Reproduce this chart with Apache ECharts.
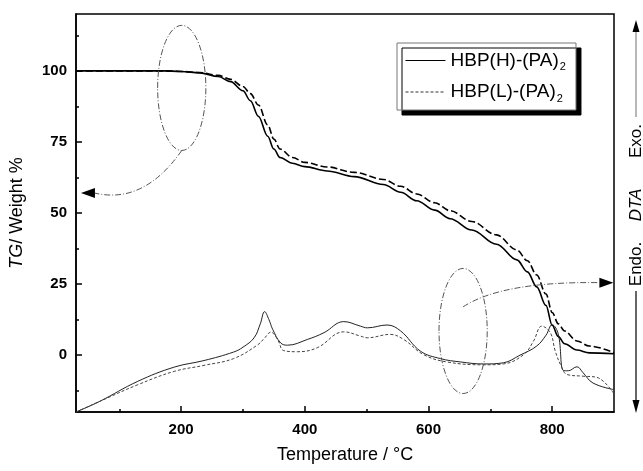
<!DOCTYPE html>
<html>
<head>
<meta charset="utf-8">
<script src="https://cdn.jsdelivr.net/npm/echarts@6/dist/echarts.min.js"></script>
<style>
  html, body { margin: 0; padding: 0; background: #fff; }
  #chart { width: 643px; height: 471px; }
</style>
</head>
<body>
<div id="chart"></div>
<script>
  // TG curves (weight %)
  const tgTemps = [30, 100, 170, 200, 230, 260, 280, 300, 312, 325, 340, 350, 360, 380, 400, 436, 480, 527, 555, 581, 610, 635, 670, 710, 743, 760, 775, 790, 800, 810, 820, 840, 860, 900];
  const tgH = [100, 100, 100, 99.8, 99.3, 98, 96.2, 93, 89.5, 84, 77, 72.5, 69.5, 67.5, 66.3, 64.8, 62.8, 60, 57.3, 54.3, 51, 48, 44, 39, 33.5, 29.3, 24, 17.5, 10.5, 6.5, 4, 1.8, 0.8, 0.5];
  const tgL = [100, 100, 100, 99.8, 99.4, 98.4, 97, 94.5, 92, 88, 81, 76, 72.5, 69.5, 67.8, 66.2, 64.3, 61.8, 59.4, 56.7, 53.6, 50.8, 47, 42.3, 37, 33.2, 28.2, 21.5, 15, 11, 8.5, 5, 3.2, 0.9];

  // DTA curves (arbitrary units, drawn on the same scale)
  const dtaTempsH = [30, 68, 130, 189, 237, 285, 300, 318, 328, 335, 342, 348, 361, 372, 404, 431, 463, 490, 501, 533, 555, 587, 619, 652, 689, 721, 748, 775, 790, 800, 810, 818, 826, 840, 850, 866, 899];
  const dtaH = [-20, -16.3, -9.2, -4.2, -1.9, 1.1, 2.8, 6.1, 11, 15.3, 12.5, 9.1, 4.3, 3.5, 5.5, 7.9, 11.8, 10.2, 9.6, 10.6, 8.5, 1.4, -1.2, -2.4, -3.1, -2.7, 0, 3.2, 7, 10.7, 7.3, -5.4, -5.5, -4.1, -6.2, -9.8, -12.1];
  const dtaTempsL = [30, 68, 130, 189, 237, 285, 323, 335, 345, 356, 366, 388, 420, 463, 490, 501, 538, 560, 592, 630, 689, 721, 754, 770, 783, 797, 805, 815, 824, 850, 872, 899];
  const dtaL = [-20, -16.3, -10.4, -5.7, -3.6, -1.2, 3.5, 6, 8.1, 5.5, 1.6, 1.2, 2.6, 8.2, 6.7, 6.1, 7.3, 5.5, 0.2, -2.4, -3.4, -3.1, 0.2, 5, 10.2, 7.9, 1.4, -4, -6.8, -7.4, -7.8, -13.3];

  // axis ticks
  const xLabels = [200, 400, 600, 800];
  const xMinor = [100, 300, 500, 700];
  const yLabels = [0, 25, 50, 75, 100];
  const yMinor = [-12.5, 12.5, 37.5, 62.5, 87.5, 112.5];

  const nameH = "HBP(H)-(PA)2";
  const nameL = "HBP(L)-(PA)2";

  const FONT = '"Liberation Sans", Arial, sans-serif';

  const zip = (xs, ys) => xs.map((x, i) => [x, ys[i]]);

  const chart = echarts.init(document.getElementById("chart"), null, { renderer: "canvas" });

  const tickAxis = (values, len, extra) => Object.assign({
    type: "value",
    axisTick: { show: true, inside: true, length: len, customValues: values, lineStyle: { color: "#000", width: 1.5 } },
    axisLine: { show: true, onZero: false, lineStyle: { color: "#000", width: 1.5 } },
    splitLine: { show: false }
  }, extra);

  chart.setOption({
    animation: false,
    backgroundColor: "#fff",
    grid: { left: 75, right: 29, top: 14, bottom: 59, show: true, borderColor: "#000", borderWidth: 1.5, backgroundColor: "transparent" },
    legend: {
      left: 397, top: 43,
      orient: "vertical",
      itemWidth: 40, itemHeight: 14, itemGap: 10,
      padding: [8, 10, 6, 8],
      backgroundColor: "#fff",
      borderColor: "#777", borderWidth: 1,
      shadowColor: "#000", shadowBlur: 0, shadowOffsetX: 5, shadowOffsetY: 5,
      data: [
        { name: nameH, itemStyle: { opacity: 0 }, lineStyle: { color: "#000", width: 1, type: "solid" } },
        { name: nameL, itemStyle: { opacity: 0 }, lineStyle: { color: "#333", width: 1, type: [3, 2] } }
      ],
      formatter: (n) => "{m|" + n.slice(0, -1) + "}{s|2}",
      textStyle: {
        rich: {
          m: { fontFamily: FONT, fontSize: 19, color: "#000", lineHeight: 24 },
          s: { fontFamily: FONT, fontSize: 11, color: "#000", verticalAlign: "bottom", lineHeight: 12, padding: [10, 0, 0, 1] }
        }
      }
    },
    xAxis: [
      tickAxis(xLabels, 6, {
        min: 30, max: 900,
        name: "Temperature / °C",
        nameLocation: "middle", nameGap: 34,
        nameTextStyle: { fontFamily: FONT, fontSize: 18, color: "#000" },
        axisLabel: { customValues: xLabels, fontFamily: FONT, fontSize: 15, fontWeight: "bold", color: "#000", margin: 10 }
      }),
      tickAxis(xMinor, 3, { min: 30, max: 900, position: "bottom", axisLabel: { show: false }, axisLine: { show: false, onZero: false } })
    ],
    yAxis: [
      tickAxis(yLabels, 6, {
        min: -20, max: 120,
        name: "{i|TG}/ Weight %",
        nameLocation: "middle", nameGap: 50, nameRotate: 90,
        nameTextStyle: {
          fontFamily: FONT, fontSize: 18, color: "#000",
          rich: { i: { fontFamily: FONT, fontSize: 18, fontStyle: "italic", color: "#000" } }
        },
        axisLabel: { customValues: yLabels, fontFamily: FONT, fontSize: 15, fontWeight: "bold", color: "#000", margin: 9 }
      }),
      tickAxis(yMinor, 3, { min: -20, max: 120, position: "left", axisLabel: { show: false }, axisLine: { show: false, onZero: false } })
    ],
    series: [
      { name: nameH, type: "line", data: zip(tgTemps, tgH), symbol: "none", smooth: 0.35, smoothMonotone: "x", itemStyle: { color: "#000" }, lineStyle: { color: "#000", width: 1.6 } },
      { name: nameL, type: "line", data: zip(tgTemps, tgL), symbol: "none", smooth: 0.35, smoothMonotone: "x", itemStyle: { color: "#000" }, lineStyle: { color: "#000", width: 1.6, type: [7, 3] } },
      { name: nameH, type: "line", data: zip(dtaTempsH, dtaH), symbol: "none", smooth: 0.4, itemStyle: { color: "#000" }, lineStyle: { color: "#222", width: 1 } },
      { name: nameL, type: "line", data: zip(dtaTempsL, dtaL), symbol: "none", smooth: 0.4, itemStyle: { color: "#000" }, lineStyle: { color: "#444", width: 1, type: [3, 2] } }
    ]
  });

  // annotation ellipses and arrows, anchored in data coordinates
  const ellipses = [
    { t: 201, v: 94, dt: 39, dv: 22 },
    { t: 656, v: 8.5, dt: 39, dv: 22 }
  ];
  const arrows = [
    { from: [201, 72], ctrl: [140, 53], to: [38, 57], dir: "left" },
    { from: [656, 17], ctrl: [720, 26], to: [899, 25.5], dir: "right" }
  ];

  const px = (p) => chart.convertToPixel({ xAxisIndex: 0, yAxisIndex: 0 }, p);
  const dashDot = { stroke: "#555", lineWidth: 1, lineDash: [6, 2, 1, 2], fill: null };
  const graphics = [];

  ellipses.forEach((e) => {
    const c = px([e.t, e.v]);
    const r = px([e.t + e.dt, e.v + e.dv]);
    graphics.push({ type: "ellipse", z: 100, shape: { cx: c[0], cy: c[1], rx: r[0] - c[0], ry: c[1] - r[1] }, style: dashDot, silent: true });
  });

  arrows.forEach((a) => {
    const f = px(a.from), c = px(a.ctrl), t = px(a.to);
    const s = a.dir === "left" ? 1 : -1;
    const tipBase = [t[0] + s * 14, t[1]];
    graphics.push({ type: "bezierCurve", z: 100, shape: { x1: f[0], y1: f[1], cpx1: c[0], cpy1: c[1], x2: tipBase[0], y2: tipBase[1] }, style: dashDot, silent: true });
    graphics.push({ type: "polygon", z: 100, shape: { points: [[t[0], t[1]], [tipBase[0], t[1] - 5], [tipBase[0], t[1] + 5]] }, style: { fill: "#000" }, silent: true });
  });

  // right-side DTA label with Exo./Endo. arrows
  const rx = 636;
  const rightText = (text, y, italic) => ({
    type: "text", x: rx, y, rotation: Math.PI / 2,
    style: { text, fill: "#000", font: (italic ? "italic " : "") + "17px " + FONT, align: "center", verticalAlign: "middle" }
  });
  graphics.push(
    { type: "line", shape: { x1: rx, y1: 30, x2: rx, y2: 117 }, style: { stroke: "#888", lineWidth: 1.2 } },
    { type: "polygon", shape: { points: [[rx, 20], [rx - 3.5, 32], [rx + 3.5, 32]] }, style: { fill: "#000" } },
    rightText("Exo.", 141, false),
    rightText("DTA", 205, true),
    rightText("Endo.", 264, false),
    { type: "line", shape: { x1: rx, y1: 291, x2: rx, y2: 402 }, style: { stroke: "#000", lineWidth: 1.2 } },
    { type: "polygon", shape: { points: [[rx, 413], [rx - 3.5, 400], [rx + 3.5, 400]] }, style: { fill: "#000" } }
  );

  chart.setOption({ graphic: graphics });
</script>
</body>
</html>
